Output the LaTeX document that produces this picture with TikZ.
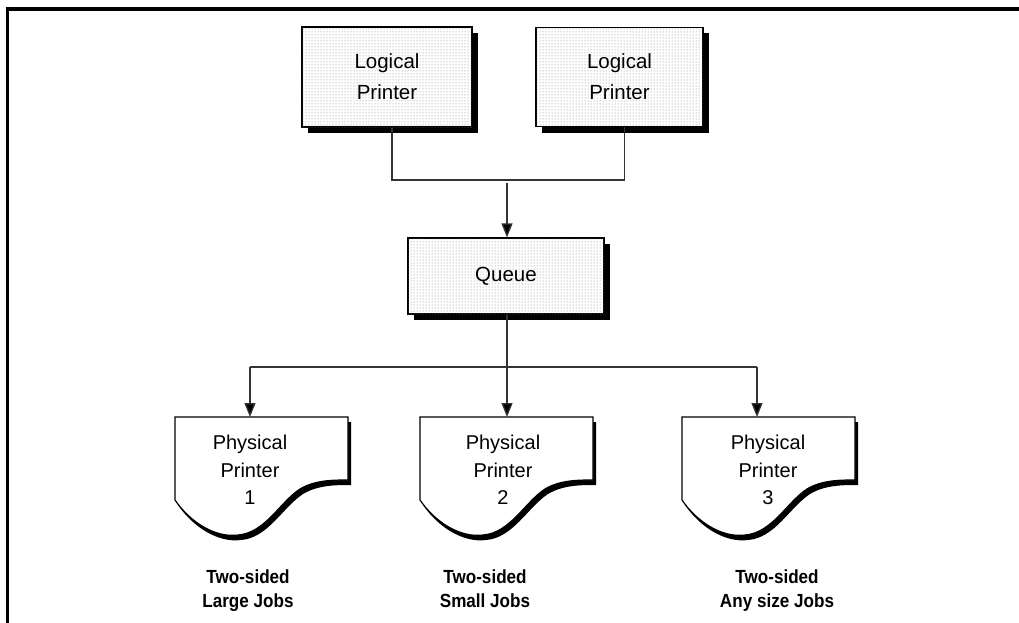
\documentclass[tikz,border=0pt]{standalone}
\usepackage{fontspec}
\setmainfont{Liberation Sans}
\usetikzlibrary{arrows.meta,shadows,patterns}
\newcommand{\docoutline}{(0,0) -- (0,83) .. controls (15,105) and (40,121) .. (63,118) .. controls (90,116) and (105,85) .. (125,72) .. controls (140,63) and (158,63) .. (173,63) -- (173,0) -- cycle}
\begin{document}
\begin{tikzpicture}[x=1pt,y=-1pt,
  box/.style={draw=black, line width=1.2pt, fill=white,
    postaction={pattern=dots, pattern color=black!50},
    drop shadow={shadow xshift=6pt, shadow yshift=-6pt, fill=black, opacity=1},
    align=center, font=\fontsize{20.5}{31}\selectfont, inner sep=0pt},
  conn/.style={line width=1.3pt, draw=black!80},
  arr/.style={conn, -{Triangle[length=14pt,width=11pt,fill=black]}},
  ptext/.style={align=center, font=\fontsize{20}{27.5}\selectfont, inner sep=0pt},
  lbl/.style={align=center, anchor=north, font=\bfseries\fontsize{19}{24}\selectfont\addfontfeature{FakeStretch=0.9}, inner sep=0pt},
  frameline/.style={line width=3.4pt},
  doc/.pic={
    \fill[black, shift={(3,5)}] \docoutline;
    \draw[line width=1.2pt, fill=white] \docoutline;
  }
]
\useasboundingbox (0,0) rectangle (1019,623);
% frame
\draw[frameline] (7.5,623) -- (7.5,9) -- (1019,9);

% logical printers
\node[box, minimum width=170pt, minimum height=100pt] (lp1) at (387,77) {Logical\\Printer};
\node[box, minimum width=167pt, minimum height=99pt] (lp2) at (619.5,77) {Logical\\Printer};

% queue
\node[box, minimum width=196pt, minimum height=76pt] (queue) at (506,276) {Queue};

% connectors from logical printers
\coordinate (j) at (507,180);
\draw[conn] ([xshift=5pt]lp1.south) |- (j) -| ([xshift=5pt]lp2.south);
\draw[arr] ([yshift=-3pt]j) -- (j |- queue.north);

% physical printers
\pic at (175,417) {doc};
\pic at (420,417) {doc};
\pic at (682,417) {doc};
\coordinate (t1) at (175,417);
\coordinate (t2) at (420,417);
\coordinate (t3) at (682,417);
\node[ptext] (pp1) at (250,470) {Physical\\Printer\\1};
\node[ptext] (pp2) at (503,470) {Physical\\Printer\\2};
\node[ptext] (pp3) at (768,470) {Physical\\Printer\\3};

% bus
\coordinate (b1) at (250,367);
\coordinate (b2) at (507,367);
\coordinate (b3) at (757,367);
\draw[conn] (b1) -- (b3);
\draw[arr] (queue.south -| b2) -- (b2 |- t2);
\draw[arr] (b1) -- (b1 |- t1);
\draw[arr] (b3) -- (b3 |- t3);

% labels
\node[lbl] (l1) at (248,569.5) {Two-sided\\Large Jobs};
\node[lbl] (l2) at (485,569.5) {Two-sided\\Small Jobs};
\node[lbl] (l3) at (777,569.5) {Two-sided\\Any size Jobs};
\end{tikzpicture}
\end{document}
